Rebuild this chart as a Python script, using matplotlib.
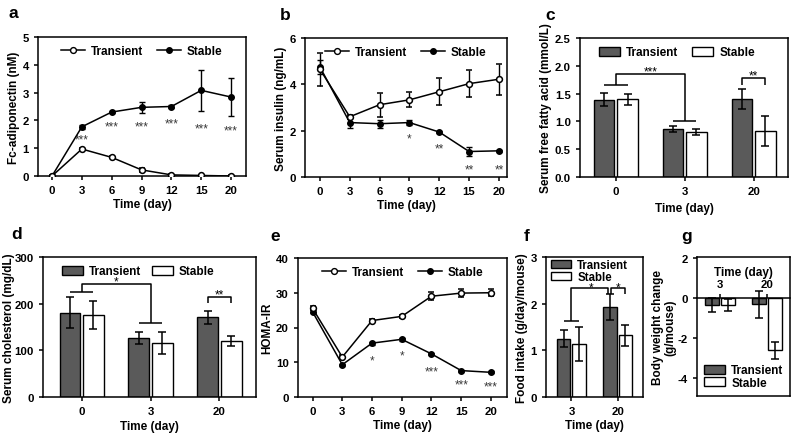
import matplotlib
matplotlib.use('Agg')
import matplotlib.pyplot as plt
from matplotlib.lines import Line2D
import numpy as np

plt.rcParams['font.family'] = ['Liberation Sans', 'DejaVu Sans']
plt.rcParams['font.weight'] = 'bold'
plt.rcParams['axes.labelweight'] = 'bold'
plt.rcParams['axes.linewidth'] = 1.1
plt.rcParams['xtick.major.width'] = 1.1
plt.rcParams['ytick.major.width'] = 1.1
plt.rcParams['xtick.major.size'] = 3
plt.rcParams['ytick.major.size'] = 3
plt.rcParams['xtick.labelsize'] = 8.2
plt.rcParams['ytick.labelsize'] = 8.2
plt.rcParams['axes.labelsize'] = 8.5

# ---------------- data ----------------
line_days = ['0', '3', '6', '9', '12', '15', '20']

a_trans = [0.0, 0.97, 0.67, 0.22, 0.04, 0.02, 0.0]
a_trans_err = [0.03, 0.05, 0.04, 0.06, 0.03, 0.02, 0.02]
a_stab = [0.0, 1.77, 2.30, 2.47, 2.50, 3.08, 2.84]
a_stab_err = [0.02, 0.08, 0.05, 0.20, 0.05, 0.73, 0.68]
a_sig = ['', '***', '***', '***', '***', '***', '***']
a_sig_y = [0, 1.45, 1.90, 1.90, 2.00, 1.83, 1.77]

b_trans = [4.65, 2.60, 3.12, 3.33, 3.68, 4.03, 4.22]
b_trans_err = [0.72, 0.08, 0.52, 0.32, 0.58, 0.58, 0.66]
b_stab = [4.75, 2.35, 2.30, 2.35, 1.94, 1.10, 1.13]
b_stab_err = [0.30, 0.25, 0.18, 0.10, 0.05, 0.20, 0.05]
b_sig = ['', '', '', '*', '**', '**', '**']
b_sig_y = [0, 0, 0, 1.80, 1.37, 0.48, 0.48]

e_trans = [25.5, 11.5, 22.0, 23.2, 29.0, 29.9, 30.0]
e_trans_err = [0.6, 0.5, 0.5, 0.5, 1.2, 1.1, 1.0]
e_stab = [24.5, 9.3, 15.5, 16.6, 12.4, 7.6, 7.1]
e_stab_err = [0.4, 0.3, 0.4, 0.4, 0.4, 0.3, 0.3]
e_sig = ['', '', '*', '*', '***', '***', '***']
e_sig_y = [0, 0, 11.6, 12.8, 8.3, 4.6, 4.1]

bar_days3 = ['0', '3', '20']
c_trans = [1.39, 0.86, 1.40]
c_trans_err = [0.12, 0.05, 0.18]
c_stab = [1.40, 0.81, 0.82]
c_stab_err = [0.10, 0.05, 0.27]

d_trans = [181, 127, 171]
d_trans_err = [34, 13, 14]
d_stab = [176, 116, 120]
d_stab_err = [30, 24, 10]

bar_days2 = ['3', '20']
f_trans = [1.25, 1.93]
f_trans_err = [0.18, 0.27]
f_stab = [1.14, 1.32]
f_stab_err = [0.36, 0.22]

g_trans = [-0.37, -0.31]
g_trans_err = [0.35, 0.68]
g_stab = [-0.36, -2.62]
g_stab_err = [0.29, 0.41]
g_yticks = [-4, -2, 0, 2]
g_yticklabels = ['-4', '-2', '0', '2']

DARK = '#5a5a5a'
STAR = '#3a3a3a'

W, H = 800, 439
fig = plt.figure(figsize=(8, 4.39), dpi=100)


def add_ax(l, r, t, b):
    return fig.add_axes([l / W, 1 - b / H, (r - l) / W, (b - t) / H])


def letter(x, y, s):
    fig.text(x / W, 1 - y / H, s, fontsize=12.5, fontweight='bold',
             ha='center', va='center')


def star(ax, x, y, s, color=STAR):
    # asterisks sit high in the em box: anchor baseline a bit below the target
    ax.annotate(s, (x, y), xytext=(0, -4.6), textcoords='offset points',
                ha='center', va='baseline', fontsize=8.5, color=color,
                fontweight='normal')


def line_panel(ax, trans, terr, stab, serr, sig, sig_y, ylim, yticks, ylabel, xlim):
    x = np.arange(len(line_days))
    ax.errorbar(x, stab, yerr=serr, color='black', lw=1.1, marker='o',
                ms=4, mfc='black', mec='black', capsize=2.5, elinewidth=1.0,
                capthick=1.0, zorder=3)
    ax.errorbar(x, trans, yerr=terr, color='black', lw=1.1, marker='o',
                ms=4.2, mfc='white', mec='black', mew=1.1, capsize=2.5,
                elinewidth=1.0, capthick=1.0, zorder=4)
    for xi, s, yv in zip(x, sig, sig_y):
        if s:
            star(ax, xi, yv, s)
    ax.set_xlim(*xlim)
    ax.set_ylim(*ylim)
    ax.set_yticks(yticks)
    ax.set_xticks(x)
    ax.set_xticklabels(line_days)
    ax.set_xlabel('Time (day)', labelpad=2)
    ax.set_ylabel(ylabel, labelpad=2)
    h1 = Line2D([], [], color='black', lw=1.1, marker='o', ms=4.2,
                mfc='white', mec='black')
    h2 = Line2D([], [], color='black', lw=1.1, marker='o', ms=4,
                mfc='black', mec='black')
    ax.legend([h1, h2], ['Transient', 'Stable'], ncol=2, frameon=False,
              loc='upper center', fontsize=8.5, handlelength=2.0,
              columnspacing=1.2, handletextpad=0.5, borderaxespad=0.3)


def bar_panel(ax, cats, trans, terr, stab, serr, xlim, ylim, yticks, ylabel):
    x = np.arange(len(cats))
    w = 0.3
    off = 0.17
    ax.bar(x - off, trans, w, yerr=terr, color=DARK, edgecolor='black',
           linewidth=1.0, capsize=3, error_kw=dict(elinewidth=1.1, capthick=1.1),
           label='Transient')
    ax.bar(x + off, stab, w, yerr=serr, color='white', edgecolor='black',
           linewidth=1.0, capsize=3, error_kw=dict(elinewidth=1.1, capthick=1.1),
           label='Stable')
    ax.set_xlim(*xlim)
    ax.set_ylim(*ylim)
    ax.set_yticks(yticks)
    ax.set_xticks(x)
    ax.set_xticklabels(cats)
    ax.set_ylabel(ylabel, labelpad=2)
    return x, off


def bracket(ax, xs, ys):
    ax.plot(xs, ys, color='black', lw=1.1, solid_capstyle='butt', clip_on=False)


# ---------------- a ----------------
ax = add_ax(38, 246, 38, 177)
line_panel(ax, a_trans, a_trans_err, a_stab, a_stab_err, a_sig, a_sig_y,
           (0, 5), [0, 1, 2, 3, 4, 5], 'Fc-adiponectin (nM)', (-0.47, 6.5))
letter(13, 14, 'a')

# ---------------- b ----------------
ax = add_ax(305, 507, 39, 178)
line_panel(ax, b_trans, b_trans_err, b_stab, b_stab_err, b_sig, b_sig_y,
           (0, 6), [0, 2, 4, 6], 'Serum insulin (ng/mL)', (-0.5, 6.27))
letter(285, 15, 'b')

# ---------------- e ----------------
ax = add_ax(298, 507, 259, 398)
line_panel(ax, e_trans, e_trans_err, e_stab, e_stab_err, e_sig, e_sig_y,
           (0, 40), [0, 10, 20, 30, 40], 'HOMA-IR', (-0.49, 6.54))
letter(275, 237, 'e')

# ---------------- c ----------------
ax = add_ax(580, 788, 39, 178)
x, off = bar_panel(ax, bar_days3, c_trans, c_trans_err, c_stab, c_stab_err,
                   (-0.52, 2.5), (0, 2.5), [0, 0.5, 1.0, 1.5, 2.0, 2.5],
                   'Serum free fatty acid (mmol/L)')
ax.set_yticklabels(['0.0', '0.5', '1.0', '1.5', '2.0', '2.5'])
ax.set_xlabel('Time (day)', labelpad=4)
bracket(ax, [x[0] - off, x[0] + off], [1.66, 1.66])
bracket(ax, [x[0], x[0], x[1], x[1]], [1.66, 1.86, 1.86, 1.0])
bracket(ax, [x[1] - off, x[1] + off], [1.0, 1.0])
star(ax, (x[0] + x[1]) / 2, 1.96, '***', 'black')
bracket(ax, [x[2] - off, x[2] - off, x[2] + off, x[2] + off], [1.66, 1.78, 1.78, 1.66])
star(ax, x[2], 1.88, '**', 'black')
ax.legend(ncol=2, frameon=False, loc='upper left', fontsize=8.5,
          handlelength=1.8, handleheight=0.8, columnspacing=1.2,
          handletextpad=0.5, borderaxespad=0.3, bbox_to_anchor=(0.05, 1.0))
letter(550, 15, 'c')

# ---------------- d ----------------
ax = add_ax(43, 256, 258, 398)
x, off = bar_panel(ax, bar_days3, d_trans, d_trans_err, d_stab, d_stab_err,
                   (-0.56, 2.53), (0, 300), [0, 100, 200, 300],
                   'Serum cholesterol (mg/dL)')
ax.yaxis.labelpad = 0
ax.set_xlabel('Time (day)', labelpad=3)
bracket(ax, [x[0] - off, x[0] + off], [224, 224])
bracket(ax, [x[0], x[0], x[1], x[1]], [224, 243, 243, 158])
bracket(ax, [x[1] - off, x[1] + off], [158, 158])
star(ax, (x[0] + x[1]) / 2, 254, '*', 'black')
bracket(ax, [x[2] - off, x[2] - off, x[2] + off, x[2] + off], [201, 214, 214, 201])
star(ax, x[2], 228, '**', 'black')
ax.legend(ncol=2, frameon=False, loc='upper left', fontsize=8.5,
          handlelength=1.8, handleheight=0.8, columnspacing=0.9,
          handletextpad=0.5, borderaxespad=0.3, bbox_to_anchor=(0.05, 1.0))
letter(17, 235, 'd')

# ---------------- f ----------------
ax = add_ax(546, 643, 258, 398)
x, off = bar_panel(ax, bar_days2, f_trans, f_trans_err, f_stab, f_stab_err,
                   (-0.55, 1.55), (0, 3), [0, 1, 2, 3],
                   'Food intake (g/day/mouse)')
ax.set_xlabel('Time (day)', labelpad=2)
bracket(ax, [x[0] - off, x[0] + off], [1.62, 1.62])
bracket(ax, [x[0], x[0], x[1] - off - 0.03, x[1] - off - 0.03], [1.62, 2.33, 2.33, 2.21])
star(ax, (x[0] + x[1] - off) / 2, 2.42, '*', 'black')
bracket(ax, [x[1] - off + 0.03, x[1] - off + 0.03, x[1] + off, x[1] + off], [2.21, 2.33, 2.33, 2.21])
star(ax, x[1] + 0.02, 2.42, '*', 'black')
ax.legend(ncol=1, frameon=False, loc='upper left', fontsize=8.3,
          handlelength=1.8, handleheight=0.75, labelspacing=0.0,
          handletextpad=0.5, borderaxespad=0.0, bbox_to_anchor=(0.0, 1.02))
letter(527, 237, 'f')

# ---------------- g ----------------
ax = add_ax(697, 790, 258, 397)
x, off = bar_panel(ax, bar_days2, g_trans, g_trans_err, g_stab, g_stab_err,
                   (-0.5, 1.5), (-4.9, 2.05), g_yticks,
                   'Body weight change\n(g/mouse)')
ax.set_yticklabels(g_yticklabels)
ax.yaxis.labelpad = 1
ax.spines['bottom'].set_position(('data', 0))
ax.plot([0, 1], [0, 0], transform=ax.transAxes, color='black', lw=1.1,
        clip_on=False)
ax.tick_params(axis='x', direction='in', length=3, pad=-14)
ax.text(0.5, 0.895, 'Time (day)', transform=ax.transAxes, ha='center',
        va='center', fontsize=8.5, fontweight='bold')
ax.legend(ncol=1, frameon=False, loc='lower left', fontsize=8.5,
          handlelength=1.8, handleheight=0.8, labelspacing=0.05,
          handletextpad=0.5, borderaxespad=0.2)
ax.yaxis.label.set_linespacing(1.0)
letter(687, 237, 'g')

fig.savefig('out.png', dpi=100)
